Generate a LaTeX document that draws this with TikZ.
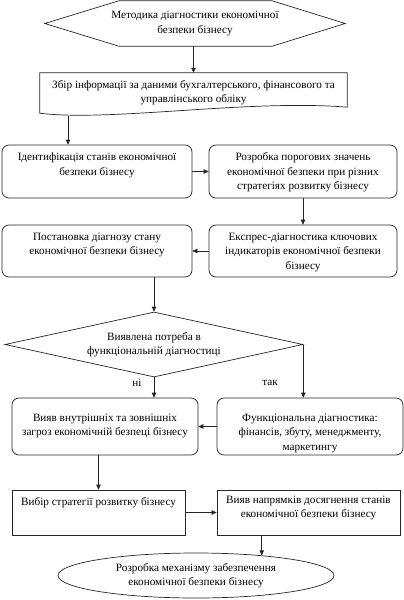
\documentclass[tikz,border=0pt]{standalone}
\usepackage{fontspec}
\setmainfont{Liberation Serif}
\usetikzlibrary{arrows.meta,shapes.geometric}
\begin{document}
\begin{tikzpicture}[x=1pt,y=-1pt,
  every node/.style={font=\fontsize{11.2}{14.5}\selectfont},
  ln/.style={line width=0.7pt, draw=black!85},
  arr/.style={ln, -{Triangle[length=5pt,width=4.5pt]}},
  rbox/.style={ln, rounded corners=7pt, inner sep=0pt},
  pbox/.style={ln, inner sep=0pt},
  lab/.style={anchor=north, align=center, inner sep=0pt},
]
\useasboundingbox (0,0) rectangle (404,600);

% top hexagon
\node[align=center, minimum width=300pt, minimum height=45pt, inner sep=0pt] (method) at (195,23.5)
  {Методика діагностики економічної\\безпеки бізнесу};
\draw[ln] (method.west) -- ([xshift=74pt]method.north west) -- ([xshift=-73pt]method.north east)
  -- (method.east) -- ([xshift=-73pt]method.south east) -- ([xshift=74pt]method.south west) -- cycle;

% document shape
\node[minimum width=307pt, minimum height=40pt, inner sep=0pt,
  label={[lab,yshift=-7pt]north:{Збір інформації за даними бухгалтерського, фінансового та\\управлінського обліку}}] (collect) at (193.5,93) {};
\draw[ln] (collect.south west) -- (collect.north west) -- (collect.north east) -- ([yshift=6pt]collect.south east)
  .. controls (250,99) and (110,122) .. (collect.south west) -- cycle;

\node[rbox, minimum width=190pt, minimum height=53pt,
  label={[lab,yshift=-8pt]north:{Ідентифікація станів економічної\\безпеки бізнесу}}] (ident) at (97,171.5) {};
\node[rbox, minimum width=188pt, minimum height=53pt,
  label={[lab,yshift=-8pt]north:{Розробка порогових значень\\економічної безпеки при різних\\стратегіях розвитку бізнесу}}] (thresh) at (303,171.5) {};
\node[rbox, minimum width=190pt, minimum height=52pt,
  label={[lab,yshift=-8pt]north:{Постановка діагнозу стану\\економічної безпеки бізнесу}}] (post) at (97,251) {};
\node[rbox, minimum width=188pt, minimum height=52pt,
  label={[lab,yshift=-8pt]north:{Експрес-діагностика ключових\\індикаторів економічної безпеки\\бізнесу}}] (express) at (303,251) {};

\node[ln, shape=diamond, aspect=4.6, inner sep=0pt, align=center, minimum width=298pt, minimum height=65pt] (diag) at (154,344.5)
  {Виявлена потреба в\\функціональній діагностиці};

\node (no) at (137,383) {ні};
\node (yes) at (270,383) {так};

\node[rbox, minimum width=186pt, minimum height=57pt,
  label={[lab,yshift=-16pt]north:{Вияв внутрішніх та зовнішніх\\загроз економічній безпеці бізнесу}}] (threats) at (105,426.5) {};
\node[rbox, minimum width=186pt, minimum height=57pt,
  label={[lab,yshift=-16pt]north:{Функціональна діагностика:\\фінансів, збуту, менеджменту,\\маркетингу}}] (func) at (310,426.5) {};

\node[pbox, minimum width=173pt, minimum height=45pt,
  label={[lab,yshift=-8pt]north:{Вибір стратегії розвитку бізнесу}}] (choice) at (98.5,512.5) {};
\node[pbox, minimum width=183pt, minimum height=45pt,
  label={[lab,yshift=-6pt]north:{Вияв напрямків досягнення станів\\економічної безпеки бізнесу}}] (dirs) at (308.5,512.5) {};

\node[ln, shape=ellipse, inner sep=0pt, align=center, minimum width=276pt, minimum height=45pt] (mech) at (196,575.5)
  {Розробка механізму забезпечення\\економічної безпеки бізнесу};

% connectors
\coordinate (c1) at (68,116);
\draw[arr] (collect.north |- method.south) -- (collect.north);
\draw[arr] (c1) -- (c1 |- ident.north);
\draw[arr] (ident.east) -- (thresh.west);
\draw[arr] (thresh.south) -- (express.north);
\draw[arr] (express.west) -- (post.east);
\draw[arr] (diag.north |- post.south) -- (diag.north);
\draw[arr] (diag.south) -- (diag.south |- threats.north);
\draw[arr] (diag.east) -- (diag.east |- func.north);
\draw[arr] (func.west) -- (threats.east);
\draw[arr] (choice.north |- threats.south) -- (choice.north);
\draw[arr] (choice.east) -- (dirs.west);
\draw[arr] (mech.17 |- dirs.south) -- (mech.17);
\end{tikzpicture}
\end{document}
